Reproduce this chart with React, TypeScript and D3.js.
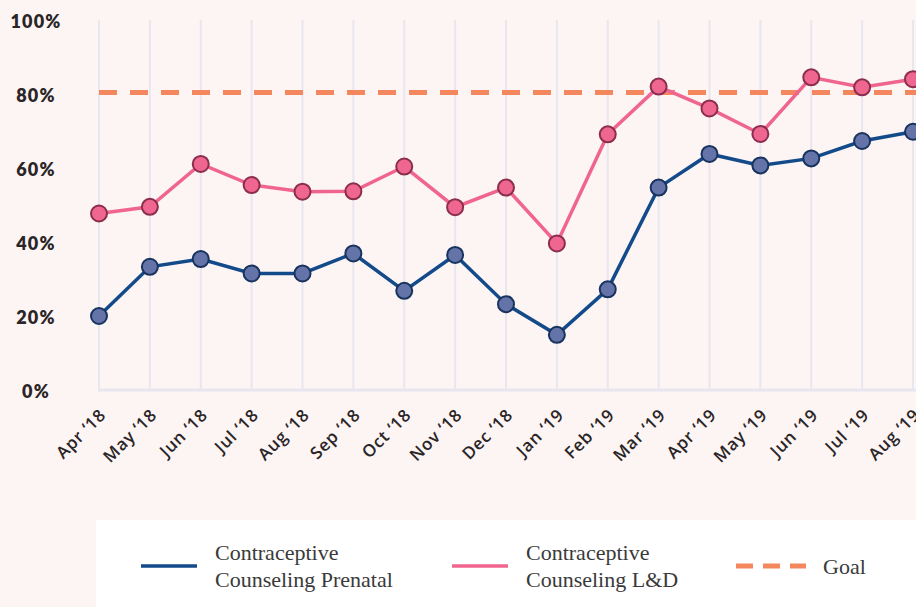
import React, { useEffect, useRef } from 'react';
import * as d3 from 'd3';

const months = [
  "Apr '18", "May '18", "Jun '18", "Jul '18", "Aug '18", "Sep '18", "Oct '18", "Nov '18", "Dec '18",
  "Jan '19", "Feb '19", "Mar '19", "Apr '19", "May '19", "Jun '19", "Jul '19", "Aug '19",
];
const prenatal = [20, 33.3, 35.4, 31.5, 31.5, 36.9, 26.8, 36.5, 23.2, 14.9, 27.2, 54.7, 63.8, 60.7, 62.6, 67.3, 69.8];
const laborDelivery = [47.7, 49.5, 61.1, 55.4, 53.6, 53.7, 60.4, 49.4, 54.7, 39.6, 69.1, 82, 76.1, 69.2, 84.5, 81.8, 84];
const goal = 80.4;
const yTicks = [0, 20, 40, 60, 80, 100];

const W = 916;
const H = 607;

const App = () => {
  const svgRef = useRef<SVGSVGElement>(null);

  useEffect(() => {
    const svg = d3.select(svgRef.current);
    svg.selectAll('*').remove();

    const x = d3.scalePoint<string>().domain(months).range([99, 913]);
    const y = d3.scaleLinear().domain([0, 100]).range([390, 20]);

    svg.append('rect').attr('width', W).attr('height', H).attr('fill', '#fdf4f4');

    // vertical gridlines
    svg.append('g')
      .selectAll('line')
      .data(months)
      .enter()
      .append('line')
      .attr('x1', d => x(d)!)
      .attr('x2', d => x(d)!)
      .attr('y1', y(100))
      .attr('y2', y(0))
      .attr('stroke', '#e8e6ee')
      .attr('stroke-width', 2);

    svg.append('line')
      .attr('x1', x(months[0])! - 1)
      .attr('x2', W)
      .attr('y1', y(0))
      .attr('y2', y(0))
      .attr('stroke', '#e8e6ee')
      .attr('stroke-width', 3);

    // y labels
    svg.append('g')
      .selectAll('text')
      .data(yTicks)
      .enter()
      .append('text')
      .attr('x', 36)
      .attr('y', d => y(d) + 8)
      .attr('text-anchor', 'middle')
      .attr('font-family', 'Lato, sans-serif')
      .attr('font-weight', 800)
      .attr('font-size', 18)
      .attr('letter-spacing', 1.2)
      .attr('fill', '#2a2526')
      .text(d => `${d}%`);

    // x labels
    svg.append('g')
      .selectAll('text')
      .data(months)
      .enter()
      .append('text')
      .attr('transform', d => `translate(${x(d)! + 8},${416}) rotate(-45)`)
      .attr('text-anchor', 'end')
      .attr('font-family', '"Open Sans", sans-serif')
      .attr('font-weight', 600)
      .attr('font-size', 17)
      .attr('letter-spacing', 0.8)
      .attr('fill', '#2a2526')
      .text(d => d.replace("'", '\u2018'));

    // goal line
    svg.append('line')
      .attr('x1', x(months[0])!)
      .attr('x2', W)
      .attr('y1', y(goal))
      .attr('y2', y(goal))
      .attr('stroke', '#f5875f')
      .attr('stroke-width', 5)
      .attr('stroke-dasharray', '18 13');

    const line = d3.line<number>()
      .x((d, i) => x(months[i])!)
      .y(d => y(d));

    const series = [
      { values: laborDelivery, color: '#f06590', fill: '#ef6790', stroke: '#8b2d4e' },
      { values: prenatal, color: '#124a8a', fill: '#6474a8', stroke: '#17335e' },
    ];

    series.forEach(s => {
      svg.append('path')
        .datum(s.values)
        .attr('d', line)
        .attr('fill', 'none')
        .attr('stroke', s.color)
        .attr('stroke-width', 3.5);
    });

    series.forEach(s => {
      svg.append('g')
        .selectAll('circle')
        .data(s.values)
        .enter()
        .append('circle')
        .attr('cx', (d, i) => x(months[i])!)
        .attr('cy', d => y(d))
        .attr('r', 8)
        .attr('fill', s.fill)
        .attr('stroke', s.stroke)
        .attr('stroke-width', 2);
    });

    // legend
    const lg = svg.append('g');
    lg.append('rect').attr('x', 96).attr('y', 520).attr('width', W - 96).attr('height', H - 520).attr('fill', '#ffffff');

    const items = [
      { x: 141, lines: ['Contraceptive', 'Counseling Prenatal'], color: '#124a8a', dash: null },
      { x: 452, lines: ['Contraceptive', 'Counseling L&D'], color: '#f06590', dash: null },
      { x: 736, lines: ['Goal'], color: '#f5875f', dash: '17 10' },
    ];
    items.forEach(it => {
      lg.append('line')
        .attr('x1', it.x)
        .attr('x2', it.x + (it.dash ? 70 : 56))
        .attr('y1', 566)
        .attr('y2', 566)
        .attr('stroke', it.color)
        .attr('stroke-width', it.dash ? 5 : 3.5)
        .attr('stroke-dasharray', it.dash);
      const tx = it.x + (it.dash ? 87 : 74);
      it.lines.forEach((t, i) => {
        lg.append('text')
          .attr('x', tx)
          .attr('y', it.lines.length === 1 ? 574 : 560 + i * 27)
          .attr('font-family', '"Liberation Serif", serif')
          .attr('font-size', 22)
          .attr('fill', '#3a3a3a')
          .text(t);
      });
    });
  }, []);

  return (
    <svg ref={svgRef} width={W} height={H} style={{ position: 'absolute', left: 0, top: 0, display: 'block' }} />
  );
};

export default App;
